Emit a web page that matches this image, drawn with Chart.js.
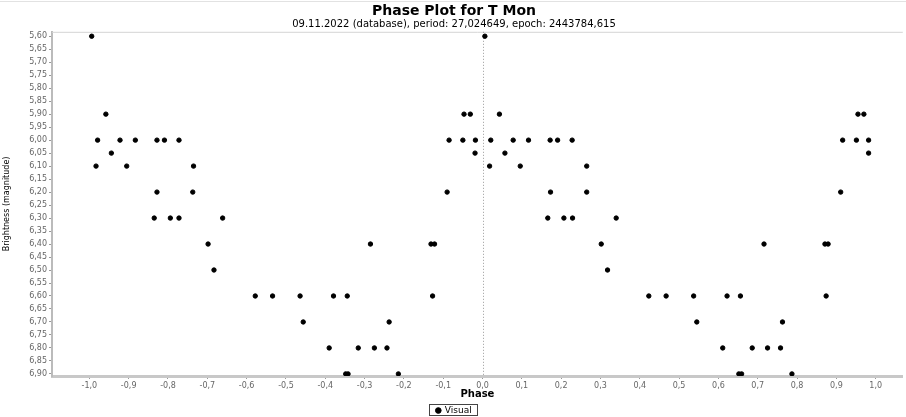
<!DOCTYPE html>
<html>
<head>
<meta charset="utf-8">
<script src="https://cdn.jsdelivr.net/npm/chart.js@4.4.1/dist/chart.umd.min.js"></script>
<style>
  html, body { margin: 0; padding: 0; background: #fff; }
  #wrap { width: 906px; height: 417px; }
</style>
</head>
<body>
<div id="wrap"><canvas id="grafico"></canvas></div>
<script>
// Phase plot for T Mon – visual estimates

// magnitudes of each observation
const magnitudes = [
  5.60, 5.90, 5.90, 5.90, 6.00, 6.00, 6.00, 6.00, 6.00, 6.00, 6.00, 6.00, 6.00,
  6.05, 6.05, 6.10, 6.10, 6.10, 6.20, 6.20, 6.20, 6.30, 6.30, 6.30, 6.30,
  6.40, 6.40, 6.40, 6.40, 6.50, 6.60, 6.60, 6.60, 6.60, 6.60, 6.60,
  6.70, 6.70, 6.80, 6.80, 6.80, 6.80, 6.90, 6.90, 6.90
];

// phase 0..1
const phasePos = [
  0.006, 0.043, 0.955, 0.970, 0.021, 0.078, 0.117, 0.172, 0.191, 0.228, 0.916, 0.951, 0.982,
  0.057, 0.982, 0.018, 0.096, 0.265, 0.173, 0.265, 0.911, 0.166, 0.207, 0.229, 0.340,
  0.302, 0.716, 0.871, 0.879, 0.318, 0.423, 0.467, 0.537, 0.622, 0.656, 0.874,
  0.545, 0.763, 0.611, 0.686, 0.725, 0.758, 0.652, 0.659, 0.787
];

// same observations shown at phase -1..0
const phaseNeg = [
  -0.994, -0.958, -0.047, -0.031, -0.979, -0.922, -0.883, -0.828, -0.809, -0.772, -0.085, -0.050, -0.018,
  -0.944, -0.019, -0.983, -0.905, -0.735, -0.828, -0.737, -0.090, -0.835, -0.794, -0.772, -0.661,
  -0.698, -0.285, -0.131, -0.122, -0.683, -0.578, -0.534, -0.464, -0.379, -0.344, -0.127,
  -0.456, -0.2375, -0.390, -0.316, -0.275, -0.243, -0.348, -0.342, -0.214
];

const xTicks = [-1.0, -0.9, -0.8, -0.7, -0.6, -0.5, -0.4, -0.3, -0.2, -0.1, 0.0,
  0.1, 0.2, 0.3, 0.4, 0.5, 0.6, 0.7, 0.8, 0.9, 1.0];
const yTicks = [5.60, 5.65, 5.70, 5.75, 5.80, 5.85, 5.90, 5.95, 6.00, 6.05, 6.10, 6.15, 6.20,
  6.25, 6.30, 6.35, 6.40, 6.45, 6.50, 6.55, 6.60, 6.65, 6.70, 6.75, 6.80, 6.85, 6.90];

const points = [];
phaseNeg.forEach((p, i) => points.push({ x: p, y: magnitudes[i] }));
phasePos.forEach((p, i) => points.push({ x: p, y: magnitudes[i] }));

const fam = 'DejaVu Sans';

// frame, dotted zero line and legend border
const moldura = {
  id: 'moldura',
  beforeDatasetsDraw(chart) {
    const { ctx, chartArea: a, scales } = chart;
    ctx.save();
    ctx.strokeStyle = '#d4d4d4';
    ctx.lineWidth = 1;
    ctx.beginPath();
    ctx.moveTo(a.left, a.top + 0.5);
    ctx.lineTo(a.right, a.top + 0.5);
    ctx.stroke();
    const x0 = Math.round(scales.x.getPixelForValue(0)) + 0.5;
    ctx.strokeStyle = '#9a9a9a';
    ctx.setLineDash([1, 2]);
    ctx.beginPath();
    ctx.moveTo(x0, a.top);
    ctx.lineTo(x0, a.bottom);
    ctx.stroke();
    ctx.restore();
  },
  afterDraw(chart) {
    const { ctx } = chart;
    const hb = chart.legend.legendHitBoxes[0];
    if (!hb) return;
    ctx.save();
    ctx.strokeStyle = '#444';
    ctx.lineWidth = 1;
    ctx.strokeRect(Math.round(hb.left - 7) + 0.5, Math.round(hb.top - 2) + 0.5,
      Math.round(hb.width + 13), Math.round(hb.height + 2));
    ctx.strokeStyle = '#e2e2e2';
    ctx.beginPath();
    ctx.moveTo(0, 1.5); ctx.lineTo(906, 1.5);
    ctx.stroke();
    ctx.restore();
  }
};

new Chart(document.getElementById('grafico'), {
  type: 'scatter',
  data: {
    datasets: [{
      label: 'Visual',
      data: points,
      backgroundColor: '#000',
      borderColor: '#000',
      pointRadius: 2.2,
      pointHoverRadius: 2.2
    }]
  },
  options: {
    responsive: true,
    maintainAspectRatio: false,
    animation: false,
    layout: { padding: { left: 2, right: 0, top: 0, bottom: -8 } },
    plugins: {
      title: {
        display: true,
        text: 'Phase Plot for T Mon',
        color: '#000',
        font: { family: fam, size: 14, weight: 'bold', lineHeight: 1.2 },
        padding: { top: 3, bottom: 0 }
      },
      subtitle: {
        display: true,
        text: '09.11.2022 (database), period: 27,024649, epoch: 2443784,615',
        color: '#000',
        font: { family: fam, size: 10, lineHeight: 1 },
        padding: { top: 0, bottom: 2 }
      },
      legend: {
        position: 'bottom',
        labels: {
          usePointStyle: true,
          pointStyle: 'circle',
          boxWidth: 4,
          boxHeight: 4,
          color: '#000',
          font: { family: fam, size: 9 },
          padding: 2
        }
      },
      tooltip: { enabled: false }
    },
    scales: {
      x: {
        type: 'linear',
        min: -1.095,
        max: 1.069,
        afterBuildTicks: a => { a.ticks = xTicks.map(v => ({ value: v })); },
        afterFit: s => { s.height = 28; },
        ticks: {
          callback: v => v.toFixed(1).replace('.', ','),
          color: '#666',
          font: { family: fam, size: 8 },
          maxRotation: 0,
          autoSkip: false,
          padding: 2
        },
        grid: { drawOnChartArea: false, tickLength: 3, color: '#999' },
        border: { color: '#c8c8c8', width: 3 },
        title: {
          display: true,
          text: 'Phase',
          color: '#000',
          font: { family: fam, size: 10, weight: 'bold' },
          padding: { top: 0, bottom: 4 }
        }
      },
      y: {
        type: 'linear',
        reverse: true,
        min: 5.583,
        max: 6.908,
        afterBuildTicks: a => { a.ticks = yTicks.map(v => ({ value: v })); },
        afterFit: s => { s.width = 50; },
        ticks: {
          callback: v => v.toFixed(2).replace('.', ','),
          color: '#666',
          font: { family: fam, size: 8 },
          autoSkip: false,
          padding: 2
        },
        grid: { drawOnChartArea: false, tickLength: 3, color: '#999' },
        border: { color: '#bbb', width: 2 },
        title: {
          display: true,
          text: 'Brightness (magnitude)',
          color: '#000',
          font: { family: fam, size: 8 },
          padding: { top: 0, bottom: 3 }
        }
      }
    }
  },
  plugins: [moldura]
});
</script>
</body>
</html>
